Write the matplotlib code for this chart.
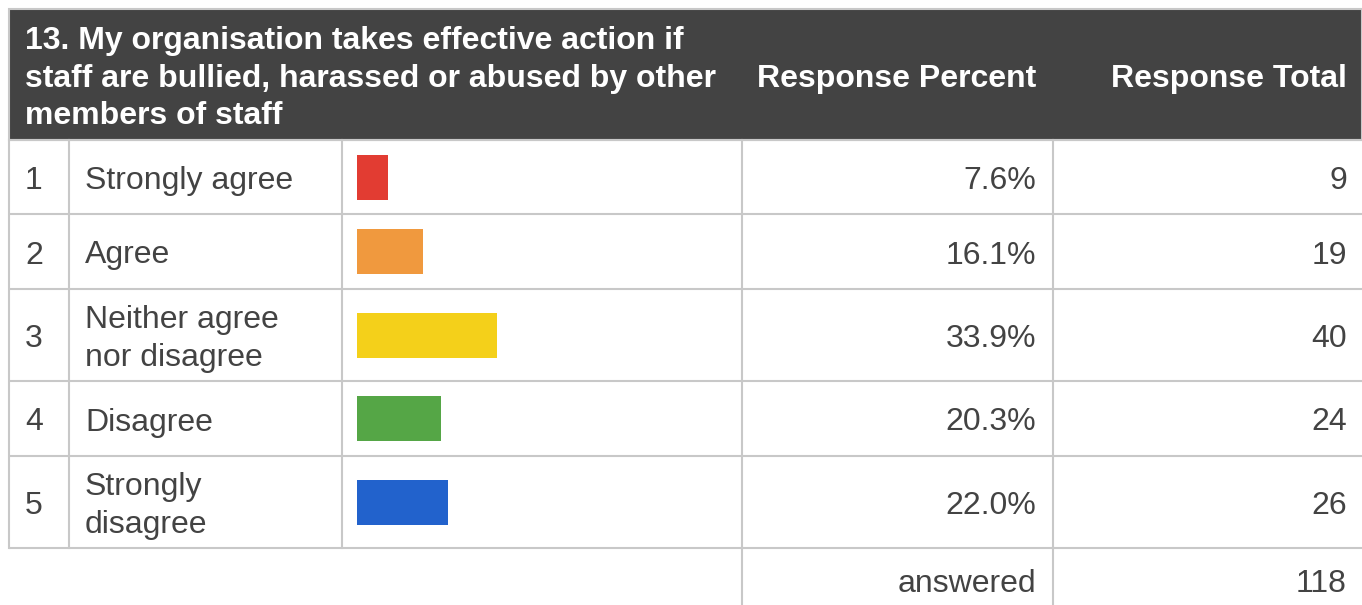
import matplotlib.pyplot as plt
from matplotlib.patches import Rectangle

plt.rcParams['font.family'] = ['Liberation Sans', 'DejaVu Sans']

title_lines = ["13. My organisation takes effective action if",
               "staff are bullied, harassed or abused by other",
               "members of staff"]
numbers = ["1", "2", "3", "4", "5"]
labels = [["Strongly agree"], ["Agree"], ["Neither agree", "nor disagree"],
          ["Disagree"], ["Strongly", "disagree"]]
percents = [7.6, 16.1, 33.9, 20.3, 22.0]
totals = [9, 19, 40, 24, 26]
answered = 118
bar_colors = ["#e23c32", "#f0993e", "#f4d01a", "#55a646", "#2262cc"]

W, H = 1362, 605
fig = plt.figure(figsize=(W / 100, H / 100), dpi=100)
ax = fig.add_axes([0, 0, 1, 1])
ax.set_xlim(0, W)
ax.set_ylim(H, 0)
ax.axis("off")

# table layout (pixels)
left, right = 9, W
cols = [9, 69, 342, 742, 1053]
head_top, head_bot = 9, 140
row_edges = [140, 214, 289, 381, 456, 548]
foot_bot = H
grid = "#c8c8c8"
txt = "#434343"
fs = 23
px_per_pct = 4.12
bar_x0 = 357
bar_h = 45
line_gap = 37.5
dy = 12  # baseline offset from line centre

# header
ax.add_patch(Rectangle((left, head_top), right - left, head_bot - head_top,
                       facecolor="#434343", edgecolor=grid, lw=1.5))
hc = (head_top + head_bot) / 2
for i, t in enumerate(title_lines):
    ax.text(25, hc + (i - 1) * line_gap + dy, t, color="white", fontsize=fs,
            fontweight="bold", va="baseline", ha="left")
ax.text(1036, hc + dy, "Response Percent", color="white", fontsize=fs,
        fontweight="bold", va="baseline", ha="right")
ax.text(1347, hc + dy, "Response Total", color="white", fontsize=fs,
        fontweight="bold", va="baseline", ha="right")

# grid lines
for y in row_edges:
    ax.plot([left, right], [y, y], color=grid, lw=1.5, solid_capstyle="butt")
for x in cols:
    ax.plot([x, x], [head_bot, row_edges[-1]], color=grid, lw=1.5)
for x in cols[3:]:
    ax.plot([x, x], [row_edges[-1], foot_bot], color=grid, lw=1.5)

# rows
for i in range(len(numbers)):
    yc = (row_edges[i] + row_edges[i + 1]) / 2
    ax.text(25, yc + dy, numbers[i], color=txt, fontsize=fs, va="baseline", ha="left")
    n = len(labels[i])
    for j, t in enumerate(labels[i]):
        ax.text(85, yc + (j - (n - 1) / 2) * line_gap + dy, t, color=txt,
                fontsize=fs, va="baseline", ha="left")
    ax.barh(yc, percents[i] * px_per_pct, left=bar_x0, height=bar_h,
            color=bar_colors[i])
    ax.text(1036, yc + dy, f"{percents[i]:.1f}%", color=txt, fontsize=fs,
            va="baseline", ha="right")
    ax.text(1347, yc + dy, str(totals[i]), color=txt, fontsize=fs,
            va="baseline", ha="right")

fy = (row_edges[-1] + foot_bot) / 2 + 3
ax.text(1036, fy + dy, "answered", color=txt, fontsize=fs, va="baseline", ha="right")
ax.text(1347, fy + dy, str(answered), color=txt, fontsize=fs, va="baseline", ha="right")

fig.savefig("out.png", dpi=100)
